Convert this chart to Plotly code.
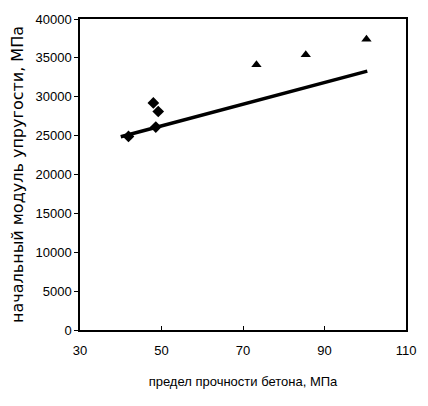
import plotly.graph_objects as go

# data
diamond_x = [41.9, 48.0, 49.2, 48.6]
diamond_y = [24900, 29200, 28100, 26100]
triangle_x = [73.3, 85.4, 100.3]
triangle_y = [34100, 35400, 37400]
line_x = [40, 100.5]
line_y = [24850, 33300]

x_ticks = [30, 50, 70, 90, 110]
y_ticks = [0, 5000, 10000, 15000, 20000, 25000, 30000, 35000, 40000]
y_tick_labels = [str(v) for v in y_ticks]

font = "Liberation Sans Narrow, Arial Narrow, Liberation Sans, Arial"

fig = go.Figure()
fig.add_trace(go.Scatter(x=line_x, y=line_y, mode="lines",
                         line=dict(color="black", width=3.5), showlegend=False))
fig.add_trace(go.Scatter(x=diamond_x, y=diamond_y, mode="markers",
                         marker=dict(symbol="diamond", size=9, color="black"), showlegend=False))
fig.add_trace(go.Scatter(x=triangle_x, y=triangle_y, mode="markers",
                         marker=dict(symbol="triangle-up", size=9, color="black"), showlegend=False))

fig.update_layout(
    width=428, height=406,
    margin=dict(l=80, r=15, t=15, b=76),
    paper_bgcolor="white", plot_bgcolor="white",
    font=dict(family=font, size=13, color="black"),
    xaxis=dict(range=[30, 110], tickvals=x_ticks, showgrid=False, zeroline=False,
               showline=True, linecolor="black", linewidth=1.5, mirror=True,
               ticks="inside", ticklen=4, tickcolor="black", ticklabelstandoff=8,
               title=dict(text="предел прочности бетона, МПа", standoff=20,
                          font=dict(size=13))),
    yaxis=dict(range=[0, 40000], tickvals=y_ticks, ticktext=y_tick_labels,
               showgrid=False, zeroline=False,
               showline=True, linecolor="black", linewidth=1.5, mirror=True,
               ticks="outside", ticklen=4, tickcolor="black",
               title=dict(text="начальный модуль упругости, МПа", standoff=8,
                          font=dict(size=16, family="DejaVu Sans"))),
)

fig.write_html("out.html")
